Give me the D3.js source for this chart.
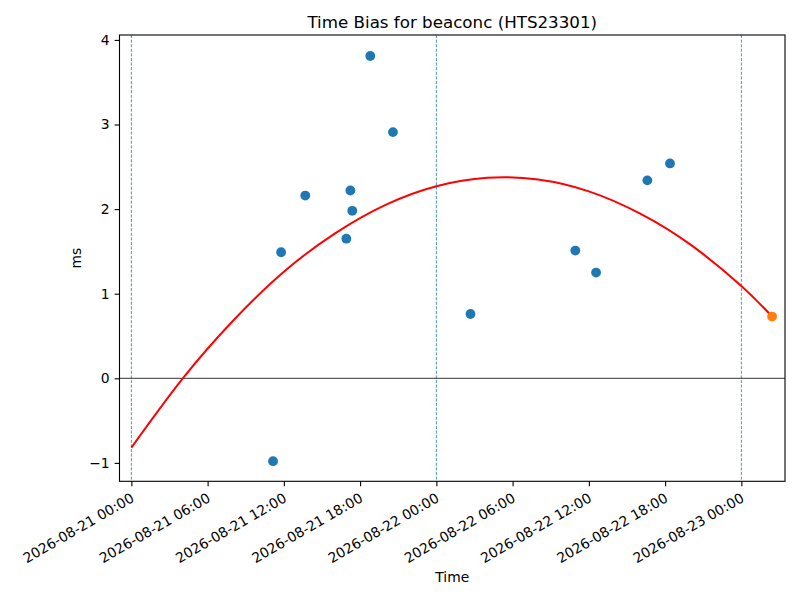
<!DOCTYPE html>
<html>
<head>
<meta charset="utf-8">
<script src="https://cdn.jsdelivr.net/npm/d3@7"></script>
<style>
  body { margin: 0; background: #fff; }
  svg text { font-family: "DejaVu Sans", sans-serif; }
</style>
</head>
<body>
<svg id="chart" width="800" height="600"></svg>
<script>
// measurement times and bias values (ms)
var obsTimes = [
    '2026-08-21T11:09', '2026-08-21T11:47', '2026-08-21T13:41', '2026-08-21T16:55',
    '2026-08-21T17:14', '2026-08-21T17:23', '2026-08-21T18:48', '2026-08-21T20:35',
    '2026-08-22T02:41', '2026-08-22T10:56', '2026-08-22T12:34', '2026-08-22T16:36',
    '2026-08-22T18:23'
];
var obsValues = [-0.98, 1.49, 2.16, 1.65, 2.22, 1.98, 3.81, 2.91, 0.76, 1.51, 1.25, 2.34, 2.54];

// latest point (highlighted)
var lastTime  = '2026-08-23T02:25';
var lastValue = 0.73;

// fitted curve
var fitTimes = [
    '2026-08-21T00:00', '2026-08-21T04:00', '2026-08-21T08:00', '2026-08-21T12:00',
    '2026-08-21T16:00', '2026-08-21T20:00', '2026-08-22T00:00', '2026-08-22T04:00',
    '2026-08-22T08:00', '2026-08-22T12:00', '2026-08-22T16:00', '2026-08-22T20:00',
    '2026-08-23T00:00', '2026-08-23T02:25'
];
var fitValues = [-0.82, -0.01, 0.68, 1.26, 1.71, 2.05, 2.27, 2.37, 2.35, 2.21, 1.95, 1.58, 1.09, 0.73];

// day boundaries
var dayLines = ['2026-08-21T00:00', '2026-08-22T00:00', '2026-08-23T00:00'];

var xTicks = [
    '2026-08-21T00:00', '2026-08-21T06:00', '2026-08-21T12:00', '2026-08-21T18:00',
    '2026-08-22T00:00', '2026-08-22T06:00', '2026-08-22T12:00', '2026-08-22T18:00',
    '2026-08-23T00:00'
];
var yTicks = [-1, 0, 1, 2, 3, 4];

var xDomain = ['2026-08-20T23:04', '2026-08-23T03:26'];
var yDomain = [-1.2175, 4.058];

var parse = d3.timeParse('%Y-%m-%dT%H:%M');
var fmt   = d3.timeFormat('%Y-%m-%d %H:%M');

var margin = { left: 119.5, right: 785, top: 35, bottom: 481.3 };
var font = '"DejaVu Sans", sans-serif';

var svg = d3.select('#chart');

var x = d3.scaleTime()
    .domain(xDomain.map(parse))
    .range([margin.left, margin.right]);

var y = d3.scaleLinear()
    .domain(yDomain)
    .range([margin.bottom, margin.top]);

var plot = svg.append('g');

// vertical dashed lines at midnight
plot.selectAll('.dayline')
    .data(dayLines)
    .enter().append('line')
    .attr('class', 'dayline')
    .attr('x1', function(d) { return x(parse(d)); })
    .attr('x2', function(d) { return x(parse(d)); })
    .attr('y1', margin.top)
    .attr('y2', margin.bottom)
    .attr('stroke', '#1f77b4')
    .attr('stroke-width', 0.8)
    .attr('stroke-dasharray', '3,1.6');

// zero line
plot.append('line')
    .attr('x1', margin.left)
    .attr('x2', margin.right)
    .attr('y1', y(0))
    .attr('y2', y(0))
    .attr('stroke', '#000')
    .attr('stroke-width', 0.8);

// measurements
plot.selectAll('.obs')
    .data(obsTimes)
    .enter().append('circle')
    .attr('class', 'obs')
    .attr('cx', function(d) { return x(parse(d)); })
    .attr('cy', function(d, i) { return y(obsValues[i]); })
    .attr('r', 4.9)
    .attr('fill', '#1f77b4');

// fitted curve
var line = d3.line()
    .x(function(d) { return x(parse(d)); })
    .y(function(d, i) { return y(fitValues[i]); })
    .curve(d3.curveNatural);

plot.append('path')
    .datum(fitTimes)
    .attr('d', line)
    .attr('fill', 'none')
    .attr('stroke', '#ff0000')
    .attr('stroke-width', 2);

plot.append('circle')
    .attr('cx', x(parse(lastTime)))
    .attr('cy', y(lastValue))
    .attr('r', 4.9)
    .attr('fill', '#ff7f0e');

// axes
var xAxis = d3.axisBottom(x)
    .tickValues(xTicks.map(parse))
    .tickFormat(fmt)
    .tickSize(4.9)
    .tickPadding(4.9)
    .tickSizeOuter(0);

var gx = svg.append('g')
    .attr('transform', 'translate(0,' + margin.bottom + ')')
    .call(xAxis)
    .attr('font-family', font)
    .attr('font-size', 13.9);

gx.select('.domain').remove();
gx.selectAll('line').attr('stroke-width', 1.1);
gx.selectAll('text')
    .attr('fill', '#000')
    .attr('text-anchor', 'end')
    .attr('y', 0)
    .attr('dy', '0.75em')
    .attr('transform', 'translate(-2,10.5) rotate(-30)');

var yAxis = d3.axisLeft(y)
    .tickValues(yTicks)
    .tickFormat(function(d) { return d < 0 ? '\u2212' + Math.abs(d) : d; })
    .tickSize(4.9)
    .tickPadding(4.9)
    .tickSizeOuter(0);

var gy = svg.append('g')
    .attr('transform', 'translate(' + margin.left + ',0)')
    .call(yAxis)
    .attr('font-family', font)
    .attr('font-size', 13.9);

gy.select('.domain').remove();
gy.selectAll('line').attr('stroke-width', 1.1);
gy.selectAll('text').attr('fill', '#000');

// frame
svg.append('rect')
    .attr('x', margin.left)
    .attr('y', margin.top)
    .attr('width', margin.right - margin.left)
    .attr('height', margin.bottom - margin.top)
    .attr('fill', 'none')
    .attr('stroke', '#000')
    .attr('stroke-width', 1.1);

// labels
var cx = (margin.left + margin.right) / 2;

svg.append('text')
    .attr('x', cx)
    .attr('y', 28)
    .attr('text-anchor', 'middle')
    .attr('font-size', 16.7)
    .text('Time Bias for beaconc (HTS23301)');

svg.append('text')
    .attr('x', cx)
    .attr('y', 582)
    .attr('text-anchor', 'middle')
    .attr('font-size', 13.9)
    .text('Time');

svg.append('text')
    .attr('transform', 'translate(81,' + ((margin.top + margin.bottom) / 2) + ') rotate(-90)')
    .attr('text-anchor', 'middle')
    .attr('font-size', 13.9)
    .text('ms');
</script>
</body>
</html>
